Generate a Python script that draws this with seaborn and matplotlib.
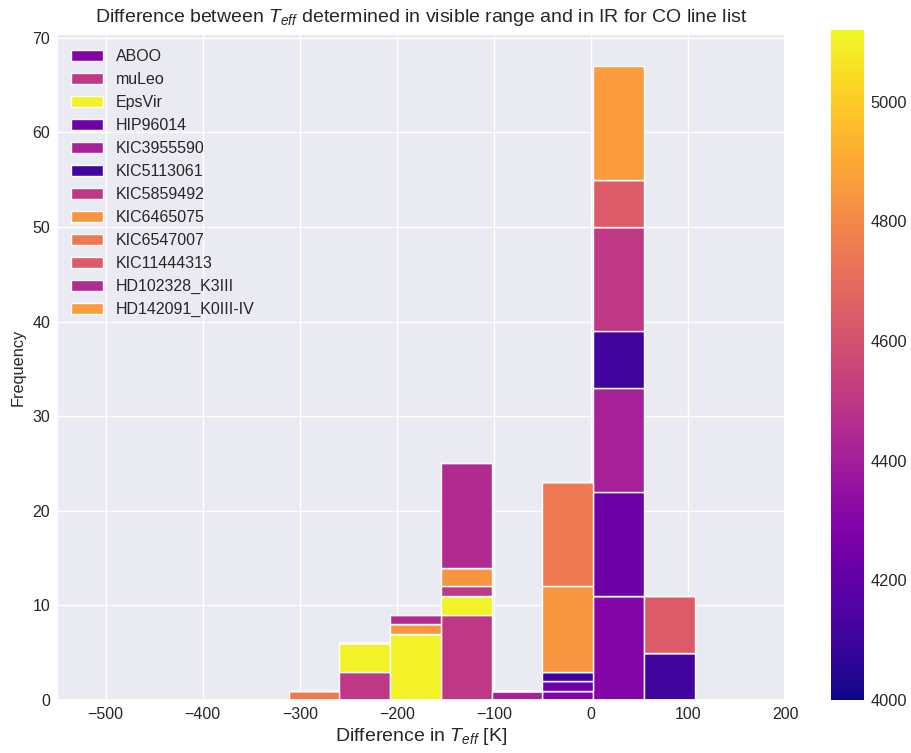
import numpy as np
import pandas as pd
import matplotlib
matplotlib.use("Agg")
import matplotlib.pyplot as plt
from matplotlib.patches import Patch
import seaborn as sns

# ---- data -------------------------------------------------------------
stars = ["ABOO", "muLeo", "EpsVir", "HIP96014", "KIC3955590", "KIC5113061",
         "KIC5859492", "KIC6465075", "KIC6547007", "KIC11444313",
         "HD102328_K3III", "HD142091_K0III-IV"]
teff = [4300, 4500, 5100, 4240, 4410, 4110, 4500, 4840, 4750, 4640, 4448, 4860]

bin_edges = [-311.3, -259.1, -206.8, -154.6, -102.4, -50.1, 2.1, 54.3, 106.6]

# counts per bin (8 bins) for every star
counts = {
    "ABOO":              [0, 0, 0, 0, 0, 1, 11, 0],
    "muLeo":             [0, 3, 0, 9, 0, 0, 0, 0],
    "EpsVir":            [0, 3, 7, 2, 0, 0, 0, 0],
    "HIP96014":          [0, 0, 0, 0, 0, 1, 11, 0],
    "KIC3955590":        [0, 0, 0, 0, 1, 0, 11, 0],
    "KIC5113061":        [0, 0, 0, 0, 0, 1, 6, 5],
    "KIC5859492":        [0, 0, 0, 1, 0, 0, 11, 0],
    "KIC6465075":        [0, 0, 1, 2, 0, 9, 0, 0],
    "KIC6547007":        [1, 0, 0, 0, 0, 11, 0, 0],
    "KIC11444313":       [0, 0, 0, 0, 0, 0, 5, 6],
    "HD102328_K3III":    [0, 0, 1, 11, 0, 0, 0, 0],
    "HD142091_K0III-IV": [0, 0, 0, 0, 0, 0, 12, 0],
}

vmin, vmax = 4000, 5120

# ---- build table -------------------------------------------------------
centers = [(a + b) / 2 for a, b in zip(bin_edges[:-1], bin_edges[1:])]
rows = []
for s in stars:
    for c, n in zip(centers, counts[s]):
        rows.append({"diff": c, "count": n, "star": s})
df = pd.DataFrame(rows)

cmap = plt.get_cmap("plasma")
norm = matplotlib.colors.Normalize(vmin=vmin, vmax=vmax)
palette = {s: cmap(norm(t)) for s, t in zip(stars, teff)}

# ---- plot ----------------------------------------------------------------
sns.set_theme(style="darkgrid")
plt.rcParams["font.family"] = ["Liberation Sans", "DejaVu Sans"]
plt.rcParams["mathtext.fontset"] = "custom"
plt.rcParams["mathtext.rm"] = "Liberation Sans"
plt.rcParams["mathtext.it"] = "Liberation Sans:italic"

fig = plt.figure(figsize=(9.11, 7.53), dpi=100)
ax = fig.add_axes([0.0626, 0.0704, 0.7994, 0.8838])
cax = fig.add_axes([0.912, 0.0704, 0.036, 0.8898])

sns.histplot(data=df, x="diff", weights="count", hue="star",
             hue_order=stars[::-1], multiple="stack", bins=bin_edges,
             palette=palette, edgecolor="white", linewidth=1.0, alpha=1.0,
             legend=False, ax=ax)

ax.set_xlim(-550, 200)
ax.set_ylim(0, 70.35)
ax.set_xlabel(r"Difference in $T_{eff}$ [K]", fontsize=14, labelpad=3)
ax.set_ylabel("Frequency", fontsize=11.7, labelpad=5)
ax.set_title(r"Difference between $T_{eff}$ determined in visible range and in IR for CO line list",
             fontsize=14, pad=9)
ax.tick_params(labelsize=11.5, length=0, pad=5)

handles = [Patch(facecolor=palette[s], edgecolor="white", label=s) for s in stars]
ax.legend(handles=handles, loc="upper left", frameon=False, fontsize=11.5,
          labelspacing=0.5)

sm = matplotlib.cm.ScalarMappable(norm=norm, cmap=cmap)
sm.set_array([])
cb = fig.colorbar(sm, cax=cax)
cb.outline.set_visible(False)
cb.ax.tick_params(labelsize=11.8, length=0, pad=5)

fig.savefig("out.png", dpi=100)
